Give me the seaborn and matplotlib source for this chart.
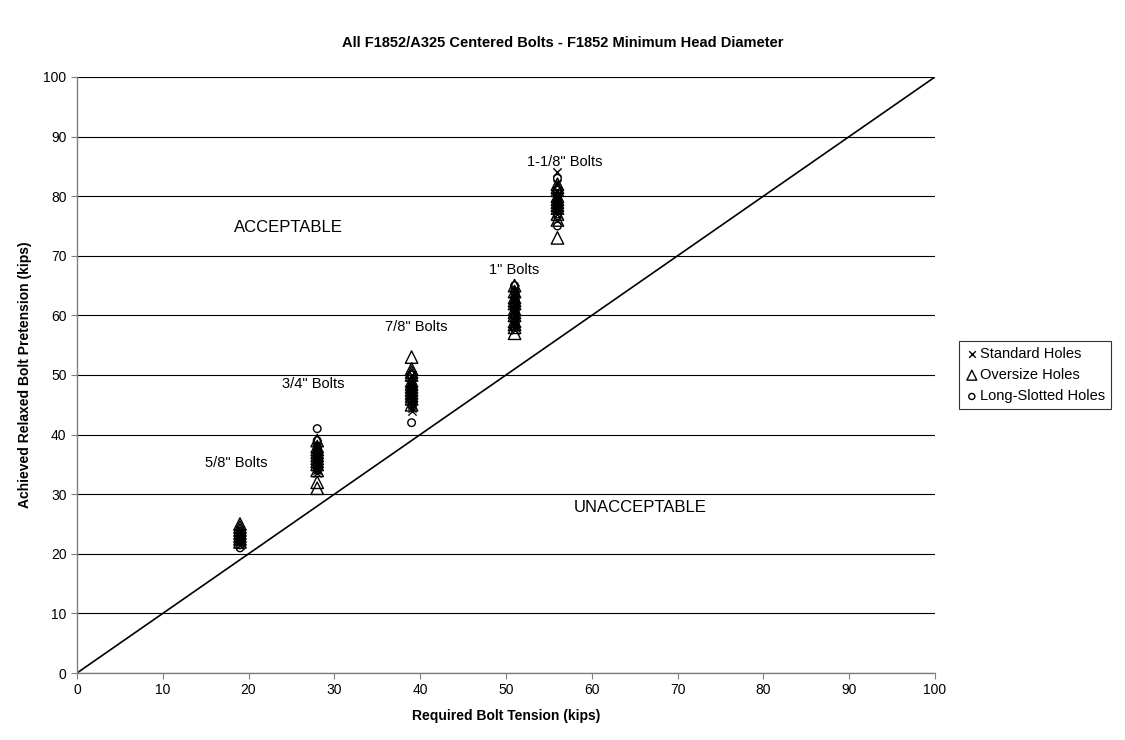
import matplotlib
matplotlib.use("Agg")
import matplotlib.pyplot as plt
import seaborn as sns
import pandas as pd

title = "All F1852/A325 Centered Bolts - F1852 Minimum Head Diameter"
x_label = "Required Bolt Tension (kips)"
y_label = "Achieved Relaxed Bolt Pretension (kips)"

bolt_labels = ['5/8" Bolts', '3/4" Bolts', '7/8" Bolts', '1" Bolts', '1-1/8" Bolts']
required = [19, 28, 39, 51, 56]
label_pos_x = [18.6, 27.5, 39.5, 51, 56.8]
label_pos_y = [35.2, 48.5, 58, 67.6, 85.7]

standard = [
    [21.5, 22, 22.5, 23, 23.5, 24],
    [33.5, 34, 34.5, 35, 35.5, 36, 36.5, 37, 37.5, 38, 38.5],
    [44, 44.5, 45, 45.5, 46, 46.5, 47, 47.5, 48, 48.5, 49, 50],
    [57.5, 58, 58.5, 59, 59.5, 60, 60.5, 61, 61.5, 62, 62.5, 63, 63.5, 64, 64.5],
    [76, 77, 77.5, 78, 78.5, 79, 79.5, 80, 81, 82, 84],
]
oversize = [
    [22, 22.5, 23, 23.5, 24, 24.5, 25],
    [31, 32, 34, 35, 35.5, 36, 36.5, 37, 37.5, 38, 39],
    [45, 46, 46.5, 47, 47.5, 48, 48.5, 49, 50, 50.5, 51, 53],
    [57, 58, 58.5, 59, 60, 60.5, 61, 62, 62.5, 63, 64, 65],
    [73, 76, 77, 78, 78.5, 79, 79.5, 80, 81, 81.5, 82],
]
slotted = [
    [21, 21.5, 22, 22.5, 23],
    [34, 35, 35.5, 36, 37, 37.5, 38, 39, 41],
    [42, 45, 46, 47, 47.5, 48, 49, 50],
    [58, 59, 60, 61, 61.5, 62, 63, 64, 65],
    [75, 77, 78, 79, 79.5, 80, 81, 83],
]
series_names = ["Standard Holes", "Oversize Holes", "Long-Slotted Holes"]

rows = []
for name, data in zip(series_names, [standard, oversize, slotted]):
    for xv, ys in zip(required, data):
        for yv in ys:
            rows.append({"x": xv, "y": yv, "series": name})
df = pd.DataFrame(rows)

sns.set_style("white")
plt.rcParams['font.family'] = ['Liberation Sans', 'DejaVu Sans']
plt.rcParams['text.color'] = 'black'
plt.rcParams['axes.labelcolor'] = 'black'
plt.rcParams['xtick.color'] = 'black'
plt.rcParams['ytick.color'] = 'black'

fig = plt.figure(figsize=(11.25, 7.4), dpi=100)
ax = fig.add_axes([0.0684, 0.0905, 0.7627, 0.8055])

markers = {"Standard Holes": "x", "Oversize Holes": "^", "Long-Slotted Holes": "o"}
sizes_map = {"Standard Holes": 35, "Oversize Holes": 80, "Long-Slotted Holes": 30}
for name in series_names:
    sub = df[df["series"] == name]
    if markers[name] == "x":
        sns.scatterplot(data=sub, x="x", y="y", marker="x", color="black",
                        s=sizes_map[name], linewidth=1.0, ax=ax, label=name, zorder=3)
    else:
        sns.scatterplot(data=sub, x="x", y="y", marker=markers[name], facecolor="none",
                        edgecolor="black", s=sizes_map[name], linewidth=1.0, ax=ax,
                        label=name, zorder=3)

sns.lineplot(x=[0, 100], y=[0, 100], color="black", linewidth=1.2, ax=ax, legend=False, zorder=2)

ax.set_xlim(0, 100)
ax.set_ylim(0, 100)
ax.set_xticks(range(0, 101, 10))
ax.set_yticks(range(0, 101, 10))
ax.tick_params(axis="both", labelsize=10, length=4, color="#808080", labelcolor="black",
               direction="out", left=True, bottom=True)
ax.yaxis.grid(True, color="black", linewidth=0.8)
ax.xaxis.grid(False)
for s in ["top", "right"]:
    ax.spines[s].set_visible(False)
for s in ["left", "bottom"]:
    ax.spines[s].set_color("#808080")
    ax.spines[s].set_linewidth(1.0)

ax.set_xlabel(x_label, fontsize=10, fontweight="bold", labelpad=8, color="black")
ax.set_ylabel(y_label, fontsize=10, fontweight="bold", labelpad=8, color="black")
fig.suptitle(title, fontsize=10.5, fontweight="bold", y=0.952, color="black")

for lab, lx, ly in zip(bolt_labels, label_pos_x, label_pos_y):
    ax.text(lx, ly, lab, ha="center", va="center", fontsize=10.5, color="black")

ax.text(24.6, 74.7, "ACCEPTABLE", ha="center", va="center", fontsize=12, color="black")
ax.text(65.6, 27.7, "UNACCEPTABLE", ha="center", va="center", fontsize=12, color="black")

leg = ax.legend(loc="center left", bbox_to_anchor=(1.02, 0.5), frameon=True, fontsize=10.5,
                handletextpad=0.1, borderpad=0.4, labelspacing=0.5, handlelength=0.9,
                fancybox=False, edgecolor="black", markerscale=0.8)
leg.get_frame().set_linewidth(0.8)
for t in leg.get_texts():
    t.set_color("black")

fig.savefig("out.png", dpi=100)
